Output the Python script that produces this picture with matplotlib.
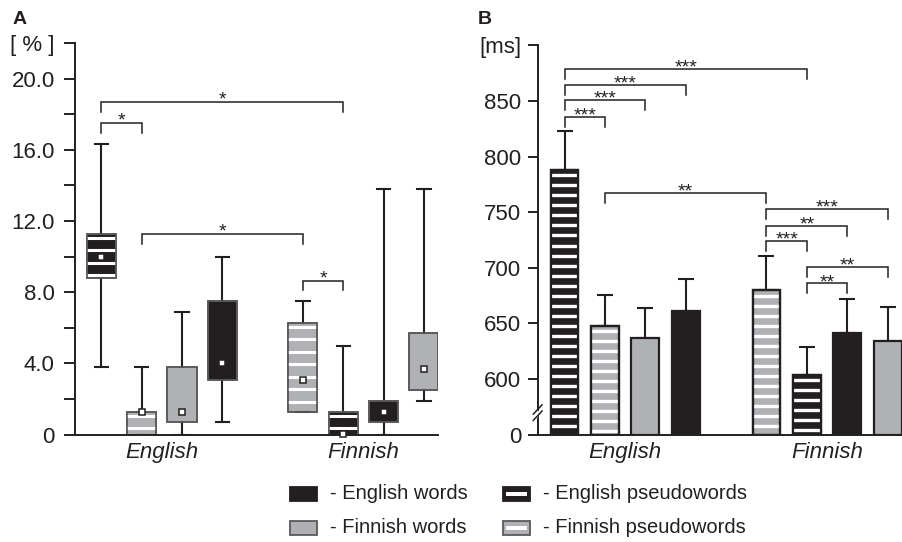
import matplotlib
matplotlib.use('Agg')
import matplotlib.pyplot as plt
import numpy as np
from matplotlib.patches import Rectangle, PathPatch
from matplotlib.lines import Line2D

plt.rcParams['font.family'] = ['Liberation Sans', 'DejaVu Sans']

# ---------------- data ----------------
groups = ['English', 'Finnish']
conds_english = ['EP', 'FP', 'FW', 'EW']   # order of boxes/bars in the English block
conds_finnish = ['FP', 'EP', 'EW', 'FW']   # order in the Finnish block
conditions = conds_english + conds_finnish

legend_labels = {'EW': '- English words', 'EP': '- English pseudowords',
                 'FW': '- Finnish words', 'FP': '- Finnish pseudowords'}

# Panel A: error rates [%]
err_q1 = [8.8, 0.0, 0.7, 3.1, 1.3, 0.0, 0.7, 2.5]
err_q3 = [11.3, 1.3, 3.8, 7.5, 6.3, 1.3, 1.9, 5.7]
err_lo = [3.8, 0.0, 0.0, 0.7, 1.3, 0.0, 0.0, 1.9]
err_hi = [16.3, 3.8, 6.9, 10.0, 7.5, 5.0, 13.8, 13.8]
err_mean = [10.0, 1.3, 1.3, 4.0, 3.1, 0.05, 1.3, 3.7]

# Panel B: reaction times [ms]
rt_mean = [788, 648, 637, 661, 680, 604, 641, 634]
rt_sd = [35, 28, 27, 29, 31, 25, 31, 31]

a_ticks = [0, 4, 8, 12, 16, 20]
a_ticklabels = ['0', '4.0', '8.0', '12.0', '16.0', '20.0']
b_ticks = [600, 650, 700, 750, 800, 850]

# significance brackets: (index i, index j, height, label)
sig_a = [(0, 5, 18.67, '*'), (0, 1, 17.5, '*'), (1, 4, 11.27, '*'), (4, 5, 8.66, '*')]
sig_b = [(0, 5, 879, '***'), (0, 3, 864.4, '***'), (0, 2, 850.9, '***'), (0, 1, 835.3, '***'),
         (1, 4, 767, '**'), (4, 7, 752.9, '***'), (4, 6, 737.8, '**'), (4, 5, 724, '***'),
         (5, 7, 700.6, '**'), (5, 6, 686, '**')]

# ---------------- style ----------------
DARK = '#231f20'
GRAY = '#b0b1b4'
GRAY_EDGE = '#5a5a5a'
FS = 16
style = {'EW': dict(fc=DARK, striped=False), 'FW': dict(fc=GRAY, striped=False),
         'EP': dict(fc=DARK, striped=True), 'FP': dict(fc=GRAY, striped=True)}

positions = list(range(4)) + list(range(5, 9))
group_centers = [1.5, 6.5]

W, H = 903, 542
fig = plt.figure(figsize=(W / 100, H / 100), dpi=100)


def fx(x):
    return x / W


def fy(y):
    return 1 - y / H


def style_axes(ax, ticklen, pad):
    for s in ['top', 'right']:
        ax.spines[s].set_visible(False)
    for s in ['left', 'bottom']:
        ax.spines[s].set_linewidth(1.4)
        ax.spines[s].set_color(DARK)
    ax.tick_params(axis='y', which='both', direction='out', length=ticklen, width=1.4,
                   color=DARK, labelsize=FS, pad=pad, labelcolor=DARK)
    ax.tick_params(axis='x', length=0, pad=5, labelsize=FS, labelcolor=DARK)
    ax.set_xticks(group_centers)
    ax.set_xticklabels(groups, style='italic')


def add_stripes(ax, patch, x0, x1, top, bottom, pitch, lw, offset):
    ys = np.arange(top - offset * pitch, bottom, -pitch)
    lc = ax.hlines(ys, x0, x1, colors='white', linewidth=lw, zorder=2.1)
    lc.set_clip_path(patch)


def brackets(ax, sigs, leg, off):
    for i, j, h, lab in sigs:
        xi, xj = positions[i], positions[j]
        ax.plot([xi, xi, xj, xj], [h - leg, h, h, h - leg], color=DARK, lw=1.1,
                solid_joinstyle='miter', zorder=3, clip_on=False)
        ax.annotate(lab, xy=((xi + xj) / 2, h), xytext=(0, off), textcoords='offset points',
                    ha='center', va='baseline', fontsize=14, color=DARK)


# ---------------- panel A ----------------
ax1 = fig.add_axes([fx(75), fy(434.7), fx(438 - 75), (434.7 - 43) / H])
stats = [dict(med=q1, q1=q1, q3=q3, whislo=lo, whishi=hi, mean=m, fliers=[])
         for q1, q3, lo, hi, m in zip(err_q1, err_q3, err_lo, err_hi, err_mean)]
bw = 0.72
bp = ax1.bxp(stats, positions=positions, widths=bw, patch_artist=True, showmeans=True,
             showfliers=False, capwidths=0.33, manage_ticks=False,
             boxprops=dict(edgecolor=GRAY_EDGE, linewidth=1.2),
             whiskerprops=dict(color=DARK, linewidth=1.5),
             capprops=dict(color=DARK, linewidth=1.5),
             medianprops=dict(linewidth=0),
             meanprops=dict(marker='s', markerfacecolor='white', markeredgecolor=DARK,
                            markersize=4.5, markeredgewidth=1.1))
for k, (patch, c) in enumerate(zip(bp['boxes'], conditions)):
    st = style[c]
    patch.set_facecolor(st['fc'])
    if st['striped']:
        add_stripes(ax1, patch, positions[k] - bw, positions[k] + bw, err_q3[k], err_q1[k],
                    0.70, 2.2, 0.35)
    ax1.add_patch(PathPatch(patch.get_path(), fill=False, edgecolor=GRAY_EDGE, lw=1.2, zorder=2.2))
for m in bp['means']:
    m.set_zorder(4)
    m.set_clip_on(False)

ax1.set_xlim(-0.654, 8.35)
ax1.set_ylim(0, 22)
ax1.set_yticks(a_ticks + [22])
ax1.set_yticklabels(a_ticklabels + ['[ % ]'])
ax1.set_yticks([2, 6, 10, 14, 18], minor=True)
style_axes(ax1, 8, 6.5)
brackets(ax1, sig_a, 0.55, -1.8)

# ---------------- panel B ----------------
BASE = 550  # axis break: bars start at the "0" baseline
ax2 = fig.add_axes([fx(537.7), fy(434.7), fx(903 - 537.7), (434.7 - 45.3) / H])
bwb = 0.69
heights = np.array(rt_mean) - BASE
ax2.errorbar(positions, rt_mean, yerr=[np.zeros(len(rt_sd)), rt_sd], fmt='none',
             ecolor=DARK, elinewidth=1.5, capsize=5.8, capthick=1.5, zorder=1.5)
bars = ax2.bar(positions, heights, bottom=BASE, width=bwb,
               color=[style[c]['fc'] for c in conditions], edgecolor=DARK, linewidth=1.6, zorder=2)
for k, (b, c) in enumerate(zip(bars, conditions)):
    if style[c]['striped']:
        add_stripes(ax2, b, positions[k] - bwb, positions[k] + bwb, rt_mean[k], BASE, 9.0, 2.4, 0.55)
        ax2.add_patch(Rectangle(b.get_xy(), b.get_width(), b.get_height(), fill=False,
                                edgecolor=DARK, lw=1.6, zorder=2.2))

ax2.set_xlim(-0.665, 8.38)
ax2.set_ylim(BASE, 900)
ax2.set_yticks([BASE] + b_ticks + [900])
ax2.set_yticklabels(['0'] + [str(t) for t in b_ticks] + ['[ms]'])
style_axes(ax2, 7, 5)
brackets(ax2, sig_b, 9, -2.6)

# axis break marks
yb = (434.7 - 411) / (434.7 - 45.3)
ax2.add_line(Line2D([-0.004, 0.0], [yb - 0.012, yb - 0.005], transform=ax2.transAxes, color='white',
                    lw=3, clip_on=False, zorder=5))
for dy in (-0.012, 0.004):
    ax2.add_line(Line2D([-0.012, 0.012], [yb + dy - 0.012, yb + dy + 0.012], transform=ax2.transAxes,
                        color=DARK, lw=1.1, clip_on=False, zorder=6))

# panel letters
fig.text(fx(13), fy(19), 'A', fontsize=14, fontweight='bold', va='center', ha='left', color=DARK)
fig.text(fx(478), fy(19), 'B', fontsize=14, fontweight='bold', va='center', ha='left', color=DARK)

# ---------------- legend ----------------
legend_layout = [('EW', 290, 486.7), ('FW', 290, 520.7), ('EP', 503.3, 486.7), ('FP', 503.3, 520.7)]
iw, ih = 27, 14.5
for c, x, y in legend_layout:
    st = style[c]
    ec = GRAY_EDGE if st['fc'] == GRAY else DARK
    fig.add_artist(Rectangle((fx(x), fy(y + ih)), iw / W, ih / H, transform=fig.transFigure,
                             facecolor=st['fc'], edgecolor=ec, lw=1.3))
    if st['striped']:
        fig.add_artist(Rectangle((fx(x + 3), fy(y + ih / 2 + 1.6)), (iw - 6) / W, 3.2 / H,
                                 transform=fig.transFigure, facecolor='white', edgecolor='none'))
    fig.text(fx(x + 40), fy(y + ih / 2), legend_labels[c], fontsize=14.5, va='center', ha='left',
             color=DARK)

fig.savefig('out.png', dpi=100)
